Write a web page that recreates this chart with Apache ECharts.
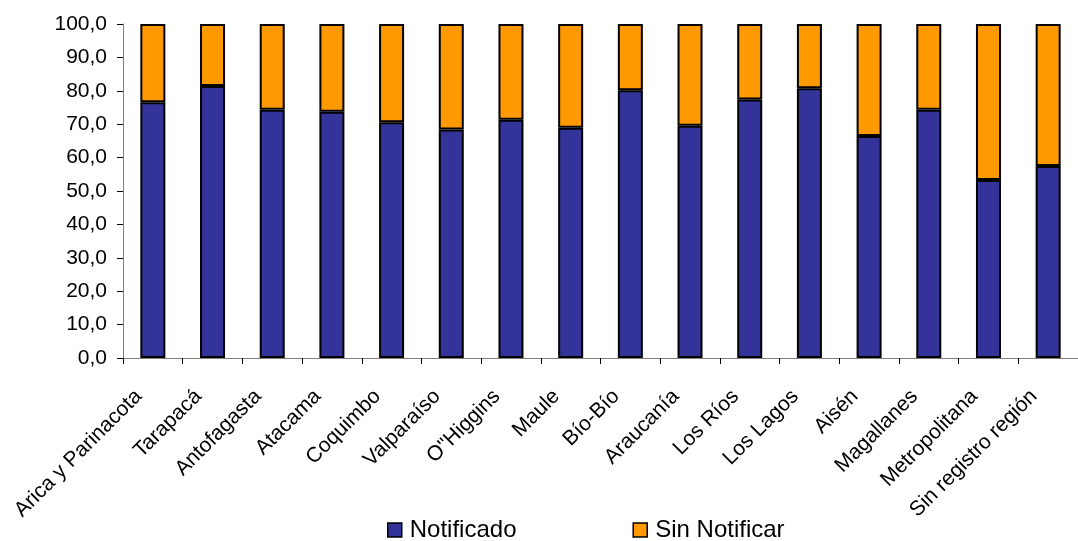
<!DOCTYPE html>
<html><head><meta charset="utf-8">
<script src="https://cdn.jsdelivr.net/npm/echarts@6/dist/echarts.min.js"></script>
<style>html,body{margin:0;padding:0;background:#fff}#c{width:1078px;height:541px}</style>
</head><body><div id="c"></div>
<script>
const categories = ["Arica y Parinacota","Tarapacá","Antofagasta","Atacama","Coquimbo","Valparaíso","O\"Higgins","Maule","Bío-Bío","Araucanía","Los Ríos","Los Lagos","Aisén","Magallanes","Metropolitana","Sin registro región"];
const notificado = [76.6,81.4,74.3,73.7,70.6,68.4,71.3,68.9,80.2,69.5,77.4,80.8,66.5,74.3,53.3,57.5];
const sinNotificar = [23.4,18.6,25.7,26.3,29.4,31.6,28.7,31.1,19.8,30.5,22.6,19.2,33.5,25.7,46.7,42.5];
const seriesNames = ["Notificado","Sin Notificar"];

const chart = echarts.init(document.getElementById('c'));
const font = 'Liberation Sans, Arial, sans-serif';
chart.setOption({
  animation: false,
  grid: {left: 123, right: -10, top: 24, bottom: 183, containLabel: false},
  legend: {
    top: 513, left: 382, itemGap: 116, itemWidth: 14, itemHeight: 14,
    icon: 'rect',
    itemStyle: {borderColor: '#000', borderWidth: 1.5},
    textStyle: {fontFamily: font, fontSize: 24, color: '#000', padding: [0,0,0,3]},
    data: seriesNames
  },
  xAxis: {
    type: 'category', data: categories,
    axisLine: {lineStyle: {color: '#808080', width: 1}},
    axisTick: {show: true, alignWithLabel: false, length: 6, lineStyle: {color: '#000'}},
    axisLabel: {rotate: 45, interval: 0, margin: 21, padding: [0,20,0,0],
      fontFamily: font, fontSize: 21, color: '#000'}
  },
  yAxis: {
    type: 'value', min: 0, max: 100, interval: 10,
    axisLine: {show: true, lineStyle: {color: '#808080'}},
    axisTick: {show: true, length: 6, lineStyle: {color: '#000'}},
    splitLine: {show: false},
    axisLabel: {fontFamily: font, fontSize: 21, color: '#000', margin: 16,
      formatter: v => v.toFixed(1).replace('.', ',')}
  },
  series: [
    {name: seriesNames[0], type: 'bar', stack: 's', data: notificado, barWidth: 25,
     itemStyle: {color: '#333399', borderColor: '#000', borderWidth: 2}},
    {name: seriesNames[1], type: 'bar', stack: 's', data: sinNotificar, barWidth: 25,
     itemStyle: {color: '#FF9900', borderColor: '#000', borderWidth: 2}}
  ]
});
</script></body></html>
